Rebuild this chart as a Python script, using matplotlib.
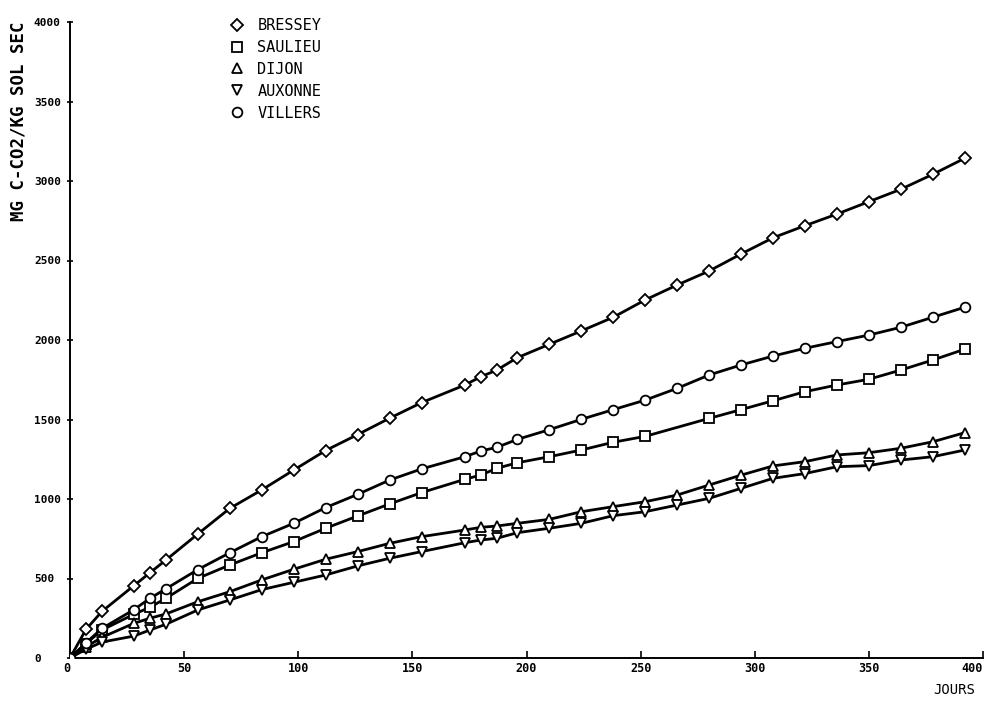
import numpy as np
import matplotlib
matplotlib.use("Agg")
import matplotlib.pyplot as plt
from matplotlib.lines import Line2D

# ---------------- data ----------------
days = [0, 7, 14, 28, 35, 42, 56, 70, 84, 98, 112, 126, 140, 154, 173, 180, 187, 196,
        210, 224, 238, 252, 266, 280, 294, 308, 322, 336, 350, 364, 378, 392]

bressey = [0, 180, 293, 455, 536, 616, 780, 941, 1057, 1182, 1305, 1405, 1508, 1606, 1717, 1769,
           1811, 1889, 1973, 2057, 2143, 2252, 2346, 2434, 2541, 2643, 2719, 2792, 2870, 2948,
           3042, 3143]
saulieu = [0, 90, 176, 275, 319, 375, 501, 585, 662, 732, 816, 893, 969, 1040, 1124, 1151,
           1193, 1228, 1266, 1308, 1357, 1394, None, 1507, 1562, 1618, 1675, 1717, 1753, 1811,
           1874, 1942]
dijon = [0, 70, 130, 218, 250, 277, 354, 417, 491, 558, 621, 669, 721, 763, 805, 822, 830, 847,
         872, 920, 952, 983, 1025, 1088, 1150, 1208, 1235, 1277, 1291, 1319, 1360, 1417]
auxonne = [0, 55, 100, 138, 176, 212, 302, 365, 430, 476, 522, 579, 627, 669, 725, 742, 753,
           788, 816, 847, 895, 920, 962, 1004, 1067, 1130, 1160, 1203, 1210, 1245, 1266, 1308]
villers = [0, 95, 186, 304, 375, 435, 556, 662, 763, 847, 946, 1029, 1119, 1189, 1266, 1302,
           1325, 1375, 1436, 1501, 1562, 1622, 1696, 1780, 1843, 1899, 1948, 1990, 2031, 2080,
           2143, 2206]

names = ["BRESSEY", "SAULIEU", "DIJON", "AUXONNE", "VILLERS"]
series = [bressey, saulieu, dijon, auxonne, villers]
markers = ["D", "s", "^", "v", "o"]

x_ticks = [0, 50, 100, 150, 200, 250, 300, 350, 400]
y_ticks = [0, 500, 1000, 1500, 2000, 2500, 3000, 3500, 4000]

# ---------------- figure ----------------
W, H = 989, 702
fig = plt.figure(figsize=(W / 100, H / 100), dpi=100)
ax = fig.add_axes([70 / W, 1 - 658 / H, 913 / W, (658 - 22) / H])

mono = "DejaVu Sans Mono"
msizes = {"D": 6.0, "s": 6.5, "^": 7.0, "v": 7.0, "o": 7.0}

for vals, mk in zip(series, markers):
    d = np.array([x for x, v in zip(days, vals) if v is not None], dtype=float)
    v = np.array([v for v in vals if v is not None], dtype=float)
    ax.plot(d, v, color="black", lw=2.0, marker=mk, ms=msizes[mk],
            mfc="white", mec="black", mew=1.3, zorder=3)

ax.set_xlim(0, 400)
ax.set_ylim(0, 4000)
ax.set_xticks(x_ticks)
ax.set_yticks(y_ticks)
ax.set_xticklabels([str(t) for t in x_ticks], family=mono, fontweight="bold", fontsize=8.5)
ax.set_yticklabels([str(t) for t in y_ticks], family=mono, fontweight="bold", fontsize=8)
for lab in ax.get_yticklabels():
    lab.set_horizontalalignment("left")
xlabs = ax.get_xticklabels()
xlabs[-1].set_horizontalalignment("right")
xlabs[0].set_horizontalalignment("right")
ax.tick_params(axis="x", direction="in", length=5, width=1.2, pad=3)
ax.tick_params(axis="y", direction="inout", length=4, width=1.2, pad=24)

for s in ["top", "right"]:
    ax.spines[s].set_visible(False)
for s in ["left", "bottom"]:
    ax.spines[s].set_linewidth(1.4)

# axis titles
fig.text(19 / W, 1 - 121 / H, "MG C-CO2/KG SOL SEC", rotation=90, ha="center", va="center",
         family=mono, fontweight="bold", fontsize=12.5)
fig.text(954 / W, 1 - 690 / H, "JOURS", ha="center", va="center",
         family=mono, fontsize=10)

# legend (markers only)
handles = [Line2D([], [], ls="none", marker=mk, ms=msizes[mk], mfc="white", mec="black", mew=1.3)
           for mk in markers]
ax.legend(handles, names, loc="upper left", bbox_to_anchor=(229 / W, 1 - 18 / H),
          bbox_transform=fig.transFigure, frameon=False, borderpad=0, borderaxespad=0,
          handlelength=1.0, handletextpad=0.85, labelspacing=0.45,
          prop={"family": mono, "size": 11})

fig.savefig("out.png", dpi=100)
